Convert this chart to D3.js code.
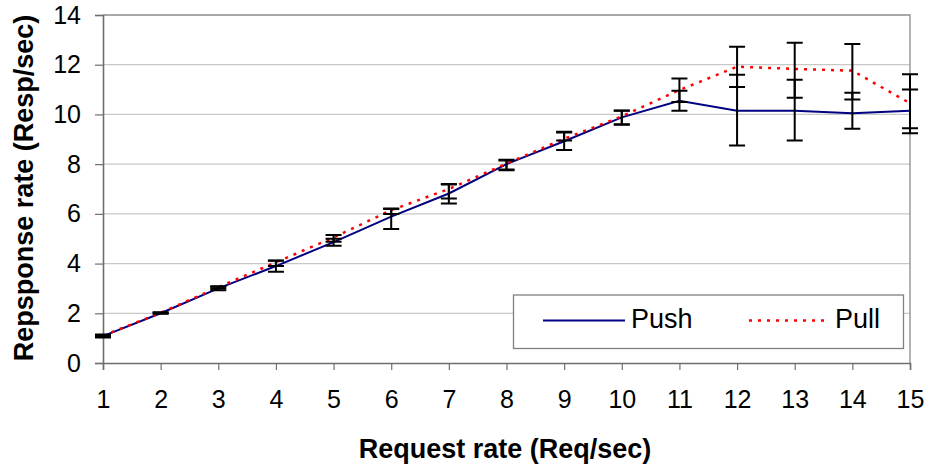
<!DOCTYPE html>
<html>
<head>
<meta charset="utf-8">
<script src="https://cdn.jsdelivr.net/npm/d3@7"></script>
<style>
  body { margin: 0; background: #fff; }
  text { font-family: "Liberation Sans", Arial, sans-serif; }
</style>
</head>
<body>
<svg id="chart"></svg>
<script>
// request rate (x) and response rates with error bar ends
var rates = [1, 2, 3, 4, 5, 6, 7, 8, 9, 10, 11, 12, 13, 14, 15];
var pushVals = [1.08, 2.0, 3.0, 3.9, 4.86, 5.89, 6.82, 8.0, 8.92, 9.88, 10.55, 10.15, 10.15, 10.05, 10.15];
var pushLo   = [1.03, 1.98, 2.93, 3.67, 4.72, 5.39, 6.42, 7.78, 8.57, 9.6, 10.15, 8.75, 8.95, 9.42, 9.44];
var pushHi   = [1.13, 2.02, 3.07, 4.11, 5.0, 6.2, 7.2, 8.15, 9.27, 10.15, 10.95, 11.6, 11.4, 10.87, 11.0];
var pullVals = [1.1, 2.02, 3.05, 4.05, 5.05, 6.15, 7.0, 8.02, 9.02, 9.92, 10.98, 11.92, 11.83, 11.76, 10.45];
var pullLo   = [1.05, 2.0, 3.0, 3.9, 4.88, 5.99, 6.62, 7.75, 8.95, 9.58, 10.5, 11.1, 10.67, 10.6, 9.24];
var pullHi   = [1.15, 2.04, 3.09, 4.12, 5.15, 6.22, 7.18, 8.18, 9.3, 10.16, 11.45, 12.72, 12.88, 12.83, 11.62];
var yTicks = [0, 2, 4, 6, 8, 10, 12, 14];

var svgWidth = 929, svgHeight = 472;
var plotLeft = 103, plotRight = 910, plotTop = 15, plotBottom = 363;

var svg = d3.select('#chart')
    .attr("width", svgWidth)
    .attr("height", svgHeight);

var x = d3.scaleLinear().domain([1, 15]).range([plotLeft, plotRight]);
var y = d3.scaleLinear().domain([0, 14]).range([plotBottom, plotTop]);

// gridlines
svg.append("g")
    .selectAll("line")
    .data(yTicks.filter(function(d) { return d > 0; }))
    .enter().append("line")
    .attr("x1", plotLeft).attr("x2", plotRight)
    .attr("y1", function(d) { return y(d); })
    .attr("y2", function(d) { return y(d); })
    .attr("stroke", "#c8c8c8")
    .attr("stroke-width", 1.3);

// plot border top / right
svg.append("path")
    .attr("d", "M" + plotLeft + "," + plotTop + "H" + plotRight + "V" + plotBottom)
    .attr("fill", "none")
    .attr("stroke", "#9a9a9a")
    .attr("stroke-width", 1.5);

// axes
var yAxis = svg.append("g")
    .attr("transform", "translate(" + plotLeft + ",0)")
    .call(d3.axisLeft(y).tickValues(yTicks).tickSize(8).tickPadding(14).tickFormat(d3.format("d")));
var xAxis = svg.append("g")
    .attr("transform", "translate(0," + plotBottom + ")")
    .call(d3.axisBottom(x).tickValues(rates).tickSize(7).tickPadding(20).tickFormat(d3.format("d")));

[yAxis, xAxis].forEach(function(a) {
    a.select(".domain").attr("stroke", "#6e6e6e").attr("stroke-width", 1.6);
    a.selectAll(".tick line").attr("stroke", "#6e6e6e").attr("stroke-width", 1.2);
    a.selectAll(".tick text")
        .attr("fill", "#000")
        .style("font-family", "'Liberation Sans', Arial, sans-serif")
        .style("font-size", "25px");
});
xAxis.selectAll(".tick text").attr("dy", "0.71em");

// lines
var line = d3.line()
    .x(function(d, i) { return x(rates[i]); })
    .y(function(d) { return y(d); });

svg.append("path")
    .datum(pushVals)
    .attr("fill", "none")
    .attr("stroke", "#000080")
    .attr("stroke-width", 2)
    .attr("d", line);

svg.append("path")
    .datum(pullVals)
    .attr("fill", "none")
    .attr("stroke", "#ff0000")
    .attr("stroke-width", 2.5)
    .attr("stroke-dasharray", "3,6")
    .attr("d", line);

// error bars
function errorBars(lo, hi) {
    var g = svg.append("g")
        .attr("stroke", "#000")
        .attr("stroke-width", 2)
        .attr("fill", "none");
    g.selectAll("path")
        .data(rates)
        .enter().append("path")
        .attr("d", function(d, i) {
            var cx = x(d), y0 = y(lo[i]), y1 = y(hi[i]);
            return "M" + (cx - 8) + "," + y1 + "H" + (cx + 8) +
                "M" + cx + "," + y1 + "V" + y0 +
                "M" + (cx - 8) + "," + y0 + "H" + (cx + 8);
        });
}
errorBars(pushLo, pushHi);
errorBars(pullLo, pullHi);

// axis titles
svg.append("text")
    .attr("x", 505)
    .attr("y", 458)
    .attr("text-anchor", "middle")
    .style("font-size", "27px")
    .style("font-weight", "bold")
    .text("Request rate (Req/sec)");

svg.append("text")
    .attr("transform", "translate(33,188) rotate(-90)")
    .attr("text-anchor", "middle")
    .style("font-size", "27px")
    .style("font-weight", "bold")
    .text("Repsponse rate (Resp/sec)");

// legend
var legend = svg.append("g");
legend.append("rect")
    .attr("x", 513.5).attr("y", 295)
    .attr("width", 390).attr("height", 53.5)
    .attr("fill", "#fff")
    .attr("stroke", "#808080")
    .attr("stroke-width", 1.3);
legend.append("line")
    .attr("x1", 543).attr("x2", 625)
    .attr("y1", 320.5).attr("y2", 320.5)
    .attr("stroke", "#000080").attr("stroke-width", 2);
legend.append("text")
    .attr("x", 631).attr("y", 327.5)
    .style("font-size", "27px")
    .text("Push");
legend.append("line")
    .attr("x1", 749).attr("x2", 829)
    .attr("y1", 320.5).attr("y2", 320.5)
    .attr("stroke", "#ff0000").attr("stroke-width", 2.5)
    .attr("stroke-dasharray", "3,6");
legend.append("text")
    .attr("x", 835).attr("y", 327.5)
    .style("font-size", "27px")
    .text("Pull");
</script>
</body>
</html>
